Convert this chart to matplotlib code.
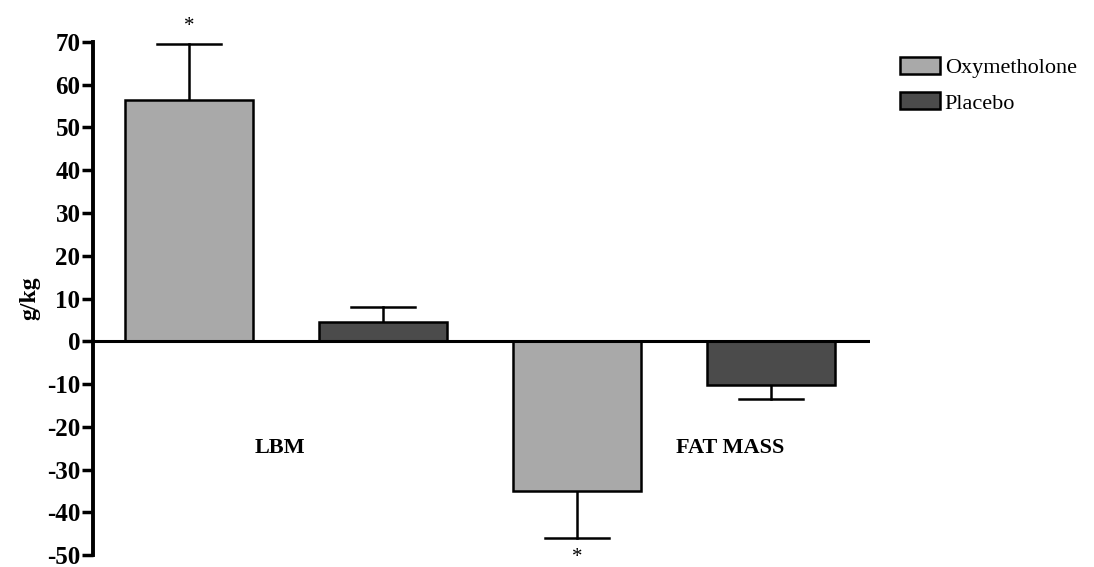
import matplotlib
matplotlib.use("Agg")
import matplotlib.pyplot as plt
from matplotlib.patches import Patch

plt.rcParams['font.family'] = ['Liberation Serif', 'DejaVu Serif']

# Change from baseline (g/kg), mean and SE
groups = ["LBM", "FAT MASS"]
series = ["Oxymetholone", "Placebo"]
oxy_vals = [56.5, -35.0]
oxy_err = [13.0, 11.0]
pla_vals = [4.5, -10.3]
pla_err = [3.5, 3.2]
yticks = [-50, -40, -30, -20, -10, 0, 10, 20, 30, 40, 50, 60, 70]

colors = {"Oxymetholone": "#a9a9a9", "Placebo": "#4b4b4b"}

fig = plt.figure(figsize=(10.94, 5.67), dpi=100)
ax = fig.add_axes([0.085, 0.021, 0.71, 0.905])

width = 0.66
positions = []
vals = []
errs = []
cols = []
for i in range(len(groups)):
    positions += [2 * i, 2 * i + 1]
    vals += [oxy_vals[i], pla_vals[i]]
    errs += [oxy_err[i], pla_err[i]]
    cols += [colors["Oxymetholone"], colors["Placebo"]]

for x, v, e, c in zip(positions, vals, errs, cols):
    ax.bar(x, v, width=width, color=c, edgecolor="black", linewidth=1.8, zorder=2)
    # one-sided error bar pointing away from zero
    sign = 1 if v >= 0 else -1
    ax.plot([x, x], [v, v + sign * e], color="black", lw=1.8, zorder=1)
    ax.plot([x - width / 4, x + width / 4], [v + sign * e] * 2, color="black", lw=1.8, zorder=1)

# significance markers on the oxymetholone bars
ax.text(0, oxy_vals[0] + oxy_err[0] + 2.0, "*", ha="center", va="bottom", fontsize=15,
        clip_on=False)
ax.text(2, oxy_vals[1] - oxy_err[1] - 2.3, "*", ha="center", va="top", fontsize=15,
        clip_on=False)

ax.axhline(0, color="black", lw=2.2, zorder=3)

# group labels
ax.text(0.47, -25, groups[0], ha="center", va="center", fontsize=16, fontweight="bold")
ax.text(2.79, -25, groups[1], ha="center", va="center", fontsize=16, fontweight="bold")

ax.set_xlim(-0.495, 3.51)
ax.set_ylim(-50, 70)
ax.set_yticks(yticks)
ax.set_yticklabels([str(t) for t in yticks], fontsize=18, fontweight="bold")
ax.tick_params(axis="y", direction="out", length=8, width=2.5, pad=1)
ax.set_xticks([])
for s in ["top", "right", "bottom"]:
    ax.spines[s].set_visible(False)
ax.spines["left"].set_linewidth(2.8)
ax.set_ylabel("g/kg", fontsize=17, fontweight="bold", labelpad=5)

handles = [Patch(facecolor=colors[s], edgecolor="black", linewidth=1.8, label=s) for s in series]
fig.legend(handles=handles, loc="upper left", bbox_to_anchor=(0.823, 0.9),
           frameon=False, fontsize=16, handlelength=1.8, handleheight=0.8,
           handletextpad=0.2, labelspacing=0.65, borderpad=0, borderaxespad=0)

fig.savefig("out.png", dpi=100)
